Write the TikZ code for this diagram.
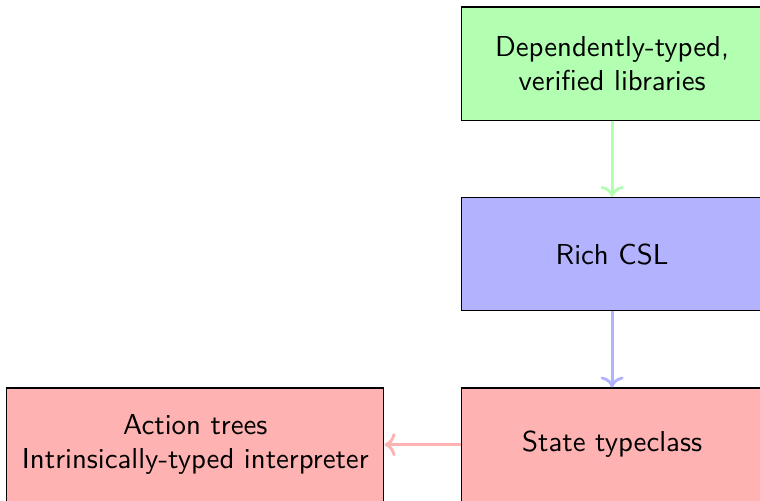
\documentclass[tikz,border=0pt]{standalone}
\usepackage{tikz}
\usetikzlibrary{arrows.meta, positioning}

\begin{document}
\begin{tikzpicture}[
    node distance=0.93cm,
    layer/.style={draw, minimum width=3.68cm, minimum height=1.38cm, font=\sffamily, align=center, inner sep=2pt},
    flow/.style={->, line width=1pt},
]
\useasboundingbox (0,0) rectangle (9.27,-6.10);

% Stack
\node[layer, fill=green!30] (libs) at (7.466,-0.775) {Dependently-typed,\\verified libraries};
\node[layer, fill=blue!30, below=of libs] (csl) {Rich CSL};
\node[layer, fill=red!30, below=of csl] (state) {State typeclass};

% Interpreter
\node[layer, fill=red!30, minimum width=4.6cm, left=0.93cm of state] (trees) {Action trees\\Intrinsically-typed interpreter};

% Flows
\draw[flow, green!30] (libs) -- (csl);
\draw[flow, blue!30] (csl) -- (state);
\draw[flow, red!30] (state) -- (trees);

\end{tikzpicture}
\end{document}
